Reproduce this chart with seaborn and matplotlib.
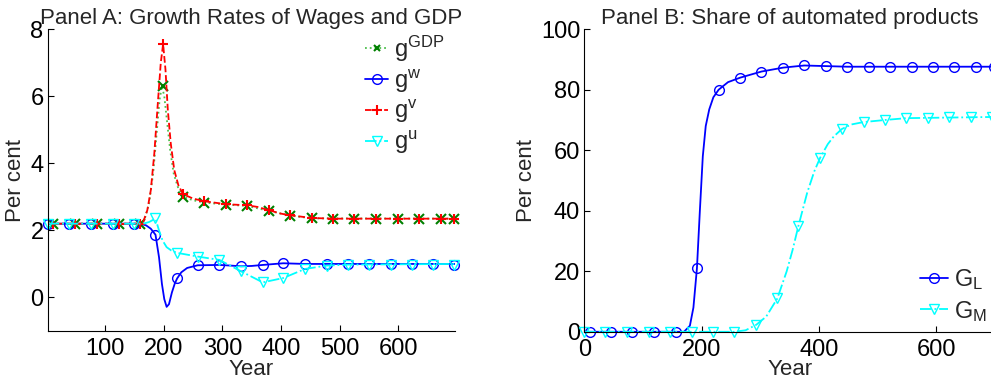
import matplotlib
matplotlib.use("Agg")
import matplotlib.pyplot as plt
from matplotlib.lines import Line2D
import seaborn as sns

# ---- Panel A: growth rates (line readings) ----
gdp_year = [2, 160, 167, 175, 182, 188, 193, 197, 201, 206, 211, 217, 224, 233, 250, 269, 307, 342, 380, 416, 453, 700]
gdp_val = [2.2, 2.2, 2.3, 2.8, 3.7, 4.9, 5.9, 6.3, 6.0, 5.2, 4.4, 3.7, 3.3, 3.0, 2.9, 2.83, 2.77, 2.73, 2.58, 2.44, 2.36, 2.35]

w_year = [2, 160, 170, 178, 186, 192, 197, 201, 205, 209, 214, 219, 223, 230, 240, 258, 295, 315, 332, 350, 369, 404, 441, 700]
w_val = [2.2, 2.2, 2.15, 2.05, 1.87, 1.2, 0.4, -0.05, -0.28, -0.2, 0.15, 0.42, 0.57, 0.75, 0.88, 0.96, 0.97, 0.95, 0.93, 0.94, 0.97, 1.02, 1.0, 1.0]

v_year = [2, 160, 165, 172, 178, 184, 190, 195, 199, 203, 207, 212, 218, 225, 233, 250, 269, 307, 342, 360, 380, 400, 416, 453, 489, 700]
v_val = [2.2, 2.2, 2.25, 2.6, 3.2, 4.3, 5.8, 7.0, 7.55, 6.8, 5.6, 4.6, 3.8, 3.35, 3.08, 2.95, 2.87, 2.78, 2.75, 2.7, 2.6, 2.5, 2.45, 2.37, 2.35, 2.35]

u_year = [2, 165, 175, 186, 192, 198, 205, 213, 223, 258, 295, 332, 369, 404, 441, 478, 514, 700]
u_val = [2.2, 2.2, 2.25, 2.35, 2.0, 1.7, 1.5, 1.4, 1.33, 1.22, 1.12, 0.78, 0.45, 0.58, 0.85, 0.95, 0.98, 1.0]

# marker readings
vx_year = [11, 48, 86, 123, 159, 199, 233, 269, 307, 342, 380, 416, 453, 489, 525, 563, 599, 636, 673, 695]
v_mark = [2.2, 2.2, 2.2, 2.2, 2.2, 7.55, 3.08, 2.87, 2.78, 2.75, 2.6, 2.45, 2.37, 2.35, 2.35, 2.35, 2.35, 2.35, 2.35, 2.35]
gdp_mark = [2.2, 2.2, 2.2, 2.2, 2.2, 6.3, 3.0, 2.83, 2.77, 2.74, 2.58, 2.44, 2.36, 2.35, 2.35, 2.35, 2.35, 2.35, 2.35, 2.35]

wu_year = [2, 39, 76, 113, 150, 186, 223, 258, 295, 332, 369, 404, 441, 478, 514, 550, 587, 623, 660, 696]
w_mark = [2.2, 2.2, 2.2, 2.2, 2.2, 1.87, 0.57, 0.96, 0.97, 0.93, 0.97, 1.02, 1.0, 1.0, 1.0, 1.0, 1.0, 1.0, 1.0, 0.98]
u_mark = [2.2, 2.2, 2.2, 2.2, 2.2, 2.37, 1.33, 1.22, 1.12, 0.78, 0.45, 0.58, 0.85, 0.95, 0.98, 0.98, 0.98, 0.98, 0.98, 0.98]

# ---- Panel B: share of automated products ----
gl_year = [0, 170, 180, 186, 192, 197, 202, 207, 213, 220, 229, 245, 266, 302, 339, 375, 412, 448, 700]
gl_val = [0, 0, 2, 8, 21, 40, 58, 68, 73.5, 77.5, 80, 82.5, 84, 86, 87.3, 88, 87.8, 87.6, 87.6]
gm_year = [0, 256, 275, 293, 310, 329, 345, 355, 365, 380, 392, 402, 415, 425, 439, 455, 476, 513, 549, 700]
gm_val = [0, 0, 0.5, 2.3, 5, 11, 20, 27, 35, 46, 53, 57.5, 62, 64.5, 67, 68.5, 69.3, 70, 70.6, 71]

gl_mk_year = [9, 46, 82, 119, 156, 192, 229, 266, 302, 339, 375, 412, 448, 485, 521, 558, 595, 631, 668, 698]
gl_mark = [0, 0, 0, 0, 0, 21, 80, 84, 86, 87.3, 88, 87.8, 87.6, 87.6, 87.6, 87.6, 87.6, 87.6, 87.6, 87.6]
gm_mk_year = [0, 36, 73, 110, 146, 183, 219, 256, 293, 329, 365, 402, 439, 476, 513, 549, 586, 622, 659, 695]
gm_mark = [0, 0, 0, 0, 0, 0, 0, 0, 2.3, 11, 35, 57.5, 67, 69.3, 70, 70.6, 70.6, 71, 71, 71]

sns.set_style("white")
plt.rcParams['font.family'] = ['Liberation Sans', 'DejaVu Sans']
plt.rcParams['xtick.direction'] = 'in'
plt.rcParams['ytick.direction'] = 'in'

BLUE = (0, 0, 1)
RED = (1, 0, 0)
CYAN = (0, 1, 1)
GREEN = (0, 0.5, 0)
LW = 1.3
MS = 7

fig = plt.figure(figsize=(9.91, 3.84), dpi=100)
axA = fig.add_axes([0.0481, 0.138, 0.411, 0.786])
axB = fig.add_axes([0.5896, 0.136, 0.4144, 0.788])


def draw(ax, xs, ys, mx, my, color, ls, marker, mew=1.0, mcolor=None):
    sns.lineplot(x=xs, y=ys, ax=ax, color=color, linestyle=ls, linewidth=LW,
                 estimator=None, sort=False)
    ax.plot(mx, my, linestyle='none', marker=marker, markersize=MS,
            markerfacecolor='none', markeredgecolor=mcolor or color,
            markeredgewidth=mew, clip_on=False)


# Panel A
draw(axA, gdp_year, gdp_val, vx_year, gdp_mark, (0.3, 0.75, 0.3), ':', 'x', 1.5, GREEN)
draw(axA, w_year, w_val, wu_year, w_mark, BLUE, '-', 'o')
draw(axA, v_year, v_val, vx_year, v_mark, RED, '--', '+', 1.5)
draw(axA, u_year, u_val, wu_year, u_mark, CYAN, '-.', 'v')

axA.set_xlim(2, 697)
axA.set_ylim(-1, 8)
axA.set_xticks([100, 200, 300, 400, 500, 600])
axA.set_yticks([0, 2, 4, 6, 8])
axA.set_title("Panel A: Growth Rates of Wages and GDP", fontsize=16, pad=4)
axA.set_xlabel("Year", fontsize=16, labelpad=-1)
axA.set_ylabel("Per cent", fontsize=16, labelpad=3)

hA = [
    Line2D([], [], color=(0.3, 0.75, 0.3), ls=':', lw=LW, marker='x', ms=5, mec=GREEN, mew=1.5),
    Line2D([], [], color=BLUE, ls='-', lw=LW, marker='o', ms=MS, mfc='none'),
    Line2D([], [], color=RED, ls='--', lw=LW, marker='+', ms=MS, mew=1.5),
    Line2D([], [], color=CYAN, ls='-.', lw=LW, marker='v', ms=MS, mfc='none'),
]
labA = [r'$\mathregular{g^{GDP}}$', r'$\mathregular{g^{w}}$',
        r'$\mathregular{g^{v}}$', r'$\mathregular{g^{u}}$']
axA.legend(hA, labA, loc='upper right', bbox_to_anchor=(1.015, 1.04), frameon=False,
           fontsize=17, handlelength=1.0, handletextpad=0.25, labelspacing=0.15,
           borderaxespad=0.3)

# Panel B
draw(axB, gl_year, gl_val, gl_mk_year, gl_mark, BLUE, '-', 'o')
draw(axB, gm_year, gm_val, gm_mk_year, gm_mark, CYAN, '-.', 'v')

axB.set_xlim(0, 700)
axB.set_ylim(0, 100)
axB.set_xticks([0, 200, 400, 600])
axB.set_yticks([0, 20, 40, 60, 80, 100])
axB.set_title("Panel B: Share of automated products", fontsize=16, pad=4)
axB.set_xlabel("Year", fontsize=16, labelpad=-1)
axB.set_ylabel("Per cent", fontsize=16, labelpad=3)

hB = [
    Line2D([], [], color=BLUE, ls='-', lw=LW, marker='o', ms=MS, mfc='none'),
    Line2D([], [], color=CYAN, ls='-.', lw=LW, marker='v', ms=MS, mfc='none'),
]
labB = [r'$\mathregular{G_{L}}$', r'$\mathregular{G_{M}}$']
axB.legend(hB, labB, loc='lower right', bbox_to_anchor=(1.015, -0.02), frameon=False,
           fontsize=17, handlelength=1.2, handletextpad=0.25, labelspacing=0.3,
           borderaxespad=0.2)

for ax in (axA, axB):
    sns.despine(ax=ax)
    ax.spines['left'].set_linewidth(0.8)
    ax.spines['bottom'].set_linewidth(0.8)
    ax.spines['left'].set_color('black')
    ax.spines['bottom'].set_color('black')
    ax.tick_params(axis='both', labelsize=17, length=4, width=0.8,
                   bottom=True, left=True, colors='black')
    ax.tick_params(axis='x', pad=5)
    ax.tick_params(axis='y', pad=3)
    ax.set_facecolor('white')

fig.savefig("out.png", dpi=100, facecolor='white')
